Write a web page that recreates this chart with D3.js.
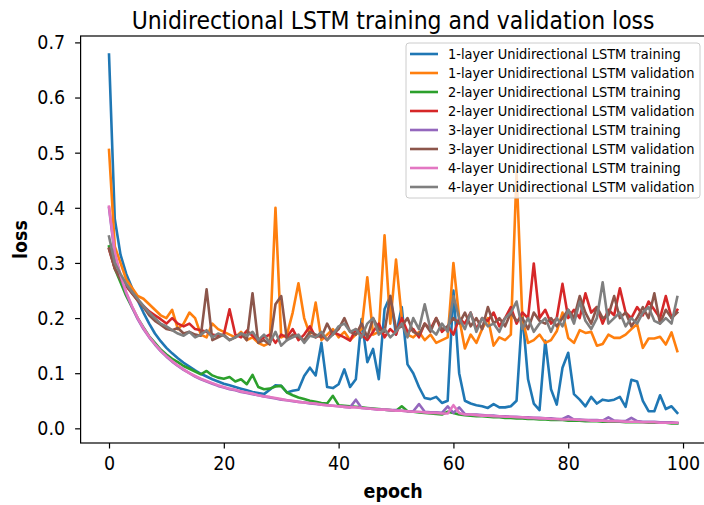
<!DOCTYPE html>
<html><head><meta charset="utf-8">
<script src="https://cdn.jsdelivr.net/npm/d3@7"></script>
<style>body{margin:0;background:#fff}svg{display:block}text{font-family:"DejaVu Sans",sans-serif}</style>
</head><body><svg id="c" width="704" height="505"></svg>
<script>
const epochs = d3.range(100);
const seriesNames = ["1-layer Unidirectional LSTM training","1-layer Unidirectional LSTM validation","2-layer Unidirectional LSTM training","2-layer Unidirectional LSTM validation","3-layer Unidirectional LSTM training","3-layer Unidirectional LSTM validation","4-layer Unidirectional LSTM training","4-layer Unidirectional LSTM validation"];
const colors = ["#1f77b4","#ff7f0e","#2ca02c","#d62728","#9467bd","#8c564b","#e377c2","#7f7f7f"];
const xTicks = [0,20,40,60,80,100];
const yTicks = [0.0,0.1,0.2,0.3,0.4,0.5,0.6,0.7];

const l1Train = [0.678,0.38,0.315,0.28,0.255,0.232,0.21,0.19,0.172,0.158,
0.146,0.136,0.127,0.119,0.112,0.105,0.099,0.094,0.089,0.085,
0.081,0.078,0.075,0.072,0.069,0.066,0.064,0.062,0.07,0.078,
0.077,0.065,0.068,0.07,0.095,0.11,0.096,0.155,0.075,0.073,
0.08,0.107,0.075,0.089,0.198,0.12,0.144,0.089,0.216,0.24,
0.17,0.22,0.116,0.1,0.075,0.055,0.053,0.057,0.046,0.05,
0.25,0.1,0.05,0.045,0.042,0.04,0.037,0.044,0.038,0.038,
0.04,0.05,0.21,0.089,0.045,0.033,0.159,0.071,0.043,0.11,
0.137,0.062,0.052,0.04,0.057,0.045,0.052,0.05,0.052,0.057,
0.039,0.088,0.085,0.05,0.031,0.031,0.06,0.035,0.04,0.028];
const l1Val = [0.505,0.33,0.3,0.27,0.255,0.24,0.235,0.225,0.215,0.205,
0.2,0.215,0.18,0.19,0.21,0.2,0.17,0.165,0.19,0.18,
0.175,0.17,0.165,0.175,0.16,0.165,0.155,0.15,0.155,0.40,
0.165,0.17,0.21,0.263,0.2,0.17,0.228,0.16,0.17,0.18,
0.165,0.175,0.16,0.17,0.18,0.274,0.17,0.175,0.35,0.19,
0.306,0.2,0.17,0.165,0.175,0.16,0.17,0.155,0.16,0.165,
0.30,0.2,0.145,0.17,0.155,0.18,0.2,0.15,0.165,0.16,
0.17,0.465,0.2,0.155,0.16,0.17,0.155,0.16,0.176,0.21,
0.164,0.155,0.178,0.173,0.175,0.15,0.153,0.17,0.164,0.164,
0.17,0.18,0.189,0.146,0.163,0.163,0.166,0.152,0.174,0.14];
const l2Train = [0.33,0.29,0.265,0.24,0.22,0.2,0.183,0.167,0.155,0.143,
0.134,0.126,0.12,0.113,0.108,0.103,0.098,0.104,0.096,0.092,
0.09,0.093,0.085,0.089,0.08,0.097,0.075,0.071,0.072,0.076,
0.077,0.065,0.06,0.056,0.053,0.05,0.048,0.046,0.045,0.059,
0.042,0.041,0.04,0.039,0.038,0.037,0.036,0.035,0.034,0.033,
0.032,0.04,0.031,0.03,0.029,0.028,0.027,0.026,0.025,0.03,
0.028,0.025,0.024,0.023,0.022,0.022,0.021,0.02,0.02,0.019,
0.019,0.018,0.018,0.017,0.017,0.016,0.016,0.015,0.015,0.015,
0.014,0.014,0.014,0.013,0.013,0.013,0.012,0.012,0.012,0.012,
0.011,0.011,0.011,0.011,0.01,0.01,0.01,0.01,0.009,0.009];
const l2Val = [0.325,0.29,0.272,0.258,0.245,0.232,0.222,0.212,0.205,0.198,
0.19,0.2,0.19,0.185,0.19,0.18,0.178,0.175,0.17,0.168,
0.17,0.216,0.17,0.165,0.177,0.168,0.159,0.165,0.17,0.155,
0.17,0.165,0.18,0.16,0.17,0.185,0.165,0.17,0.16,0.175,
0.17,0.165,0.159,0.18,0.17,0.16,0.175,0.19,0.165,0.18,
0.17,0.2,0.175,0.18,0.165,0.19,0.18,0.2,0.175,0.185,
0.17,0.2,0.19,0.21,0.18,0.2,0.195,0.21,0.185,0.2,
0.22,0.19,0.21,0.2,0.299,0.2,0.215,0.19,0.2,0.262,
0.2,0.215,0.2,0.245,0.21,0.22,0.19,0.215,0.205,0.254,
0.21,0.2,0.22,0.205,0.23,0.215,0.2,0.24,0.2,0.215];
const l3Train = [0.40,0.315,0.275,0.245,0.22,0.198,0.18,0.165,0.152,0.14,
0.13,0.121,0.113,0.106,0.1,0.094,0.089,0.085,0.081,0.077,
0.074,0.071,0.069,0.066,0.064,0.062,0.06,0.058,0.056,0.054,
0.052,0.051,0.049,0.048,0.047,0.045,0.044,0.043,0.042,0.041,
0.04,0.039,0.038,0.052,0.037,0.036,0.035,0.034,0.034,0.033,
0.033,0.032,0.031,0.031,0.044,0.03,0.029,0.029,0.028,0.04,
0.028,0.038,0.026,0.025,0.025,0.024,0.023,0.023,0.022,0.022,
0.021,0.021,0.02,0.02,0.019,0.019,0.018,0.018,0.017,0.017,
0.022,0.016,0.016,0.015,0.015,0.015,0.014,0.02,0.014,0.013,
0.013,0.019,0.013,0.012,0.012,0.012,0.011,0.011,0.011,0.01];
const l3Val = [0.326,0.29,0.27,0.26,0.245,0.232,0.22,0.205,0.195,0.188,
0.18,0.178,0.182,0.172,0.175,0.17,0.168,0.252,0.16,0.165,
0.17,0.16,0.165,0.172,0.16,0.245,0.155,0.16,0.152,0.225,
0.24,0.16,0.17,0.165,0.16,0.175,0.17,0.165,0.19,0.17,
0.18,0.2,0.175,0.17,0.19,0.165,0.2,0.18,0.175,0.24,
0.18,0.185,0.2,0.175,0.17,0.19,0.175,0.2,0.18,0.185,
0.2,0.19,0.21,0.185,0.2,0.18,0.22,0.19,0.2,0.185,
0.21,0.195,0.2,0.18,0.21,0.195,0.19,0.2,0.185,0.2,
0.215,0.2,0.24,0.21,0.19,0.22,0.2,0.205,0.24,0.2,
0.21,0.185,0.2,0.22,0.2,0.245,0.19,0.215,0.2,0.21];
const l4Train = [0.402,0.32,0.278,0.247,0.222,0.2,0.182,0.166,0.153,0.141,
0.131,0.122,0.114,0.107,0.1,0.095,0.09,0.086,0.082,0.078,
0.075,0.072,0.07,0.067,0.065,0.063,0.06,0.058,0.057,0.055,
0.053,0.051,0.05,0.048,0.047,0.046,0.045,0.043,0.042,0.041,
0.04,0.039,0.038,0.038,0.037,0.036,0.035,0.034,0.034,0.033,
0.032,0.032,0.031,0.03,0.03,0.029,0.028,0.028,0.027,0.027,
0.042,0.028,0.025,0.025,0.024,0.023,0.023,0.022,0.022,0.021,
0.021,0.02,0.02,0.019,0.019,0.018,0.018,0.017,0.017,0.016,
0.016,0.016,0.015,0.015,0.014,0.014,0.014,0.013,0.013,0.013,
0.012,0.012,0.012,0.011,0.011,0.011,0.01,0.01,0.01,0.01];
const l4Val = [0.348,0.3,0.28,0.262,0.248,0.235,0.222,0.21,0.2,0.19,
0.185,0.178,0.172,0.168,0.175,0.165,0.17,0.178,0.165,0.172,
0.168,0.16,0.165,0.172,0.168,0.175,0.16,0.17,0.155,0.175,
0.15,0.16,0.165,0.17,0.155,0.168,0.165,0.175,0.16,0.17,
0.185,0.19,0.175,0.18,0.165,0.19,0.2,0.17,0.18,0.165,
0.175,0.19,0.165,0.2,0.18,0.225,0.18,0.17,0.19,0.175,
0.24,0.2,0.18,0.21,0.175,0.2,0.185,0.19,0.175,0.2,
0.21,0.23,0.18,0.2,0.175,0.19,0.2,0.175,0.2,0.185,
0.215,0.19,0.23,0.195,0.18,0.2,0.265,0.19,0.2,0.21,
0.185,0.2,0.19,0.21,0.22,0.195,0.19,0.2,0.19,0.238];

const allSeries = [l1Train,l1Val,l2Train,l2Val,l3Train,l3Val,l4Train,l4Val];

const SY = 1.15; // vertical stretch of glyphs seen in the reference
function stretch(sel){
  sel.each(function(){
    const t = d3.select(this);
    const ax = +t.attr("x")||0, ay = +t.attr("y")||0;
    const prev = t.attr("transform")||"";
    t.attr("transform", `${prev} translate(${ax},${ay}) scale(1,${SY}) translate(${-ax},${-ay})`);
  });
}

const svg = d3.select("#c");
const L = 80.6, R = 705.7, T = 36, B = 443;
const x = d3.scaleLinear().domain([-4.95, 103.95]).range([L, R]);
const y = d3.scaleLinear().domain([-0.0266, 0.7116]).range([B, T]);

const line = d3.line().x((d,i)=>x(epochs[i])).y(d=>y(d));
const g = svg.append("g");
allSeries.forEach((s,k)=>{
  g.append("path").datum(s).attr("d", line).attr("fill","none")
   .attr("stroke", colors[k]).attr("stroke-width", 2.6)
   .attr("stroke-linejoin","round").attr("stroke-linecap","square");
});

// axes
const xAxis = d3.axisBottom(x).tickValues(xTicks).tickSize(5.5).tickPadding(7).tickFormat(d3.format("d"));
const yAxis = d3.axisLeft(y).tickValues(yTicks).tickSize(5.5).tickPadding(10).tickFormat(d3.format(".1f"));
const gx = svg.append("g").attr("transform",`translate(0,${B})`).call(xAxis);
const gy = svg.append("g").attr("transform",`translate(${L},0)`).call(yAxis);
[gx,gy].forEach(a=>{
  a.select(".domain").remove();
  a.selectAll(".tick line").attr("stroke","#000").attr("stroke-width",1.2);
  a.selectAll(".tick text").attr("fill","#000").style("font-size","17.5px").style("font-family","DejaVu Sans");
  stretch(a.selectAll(".tick text"));
});
// spines
svg.append("rect").attr("x",L).attr("y",T).attr("width",R-L).attr("height",B-T)
  .attr("fill","none").attr("stroke","#000").attr("stroke-width",1.2);

// title & labels
stretch(svg.append("text").attr("x",(L+R)/2).attr("y",29).attr("text-anchor","middle")
  .style("font-size","22px").text("Unidirectional LSTM training and validation loss"));
stretch(svg.append("text").attr("x",(L+R)/2).attr("y",498).attr("text-anchor","middle")
  .style("font-size","17.5px").style("font-weight","bold").text("epoch"));
const yl = svg.append("g").attr("transform",`translate(27,${(T+B)/2}) rotate(-90)`);
stretch(yl.append("text").attr("x",0).attr("y",0).attr("text-anchor","middle")
  .style("font-size","17.5px").style("font-weight","bold").text("loss"));

// legend
const lg = svg.append("g");
lg.append("rect").attr("x",406).attr("y",43).attr("width",294).attr("height",155).attr("rx",3)
  .attr("fill","#fff").attr("fill-opacity",0.8).attr("stroke","#ccc").attr("stroke-width",1);
seriesNames.forEach((n,k)=>{
  const yy = 54 + k*19;
  lg.append("line").attr("x1",410).attr("x2",438).attr("y1",yy).attr("y2",yy)
    .attr("stroke",colors[k]).attr("stroke-width",2.6);
  stretch(lg.append("text").attr("x",448).attr("y",yy+5).style("font-size","13px").attr("fill","#000").text(n));
});
</script></body></html>
